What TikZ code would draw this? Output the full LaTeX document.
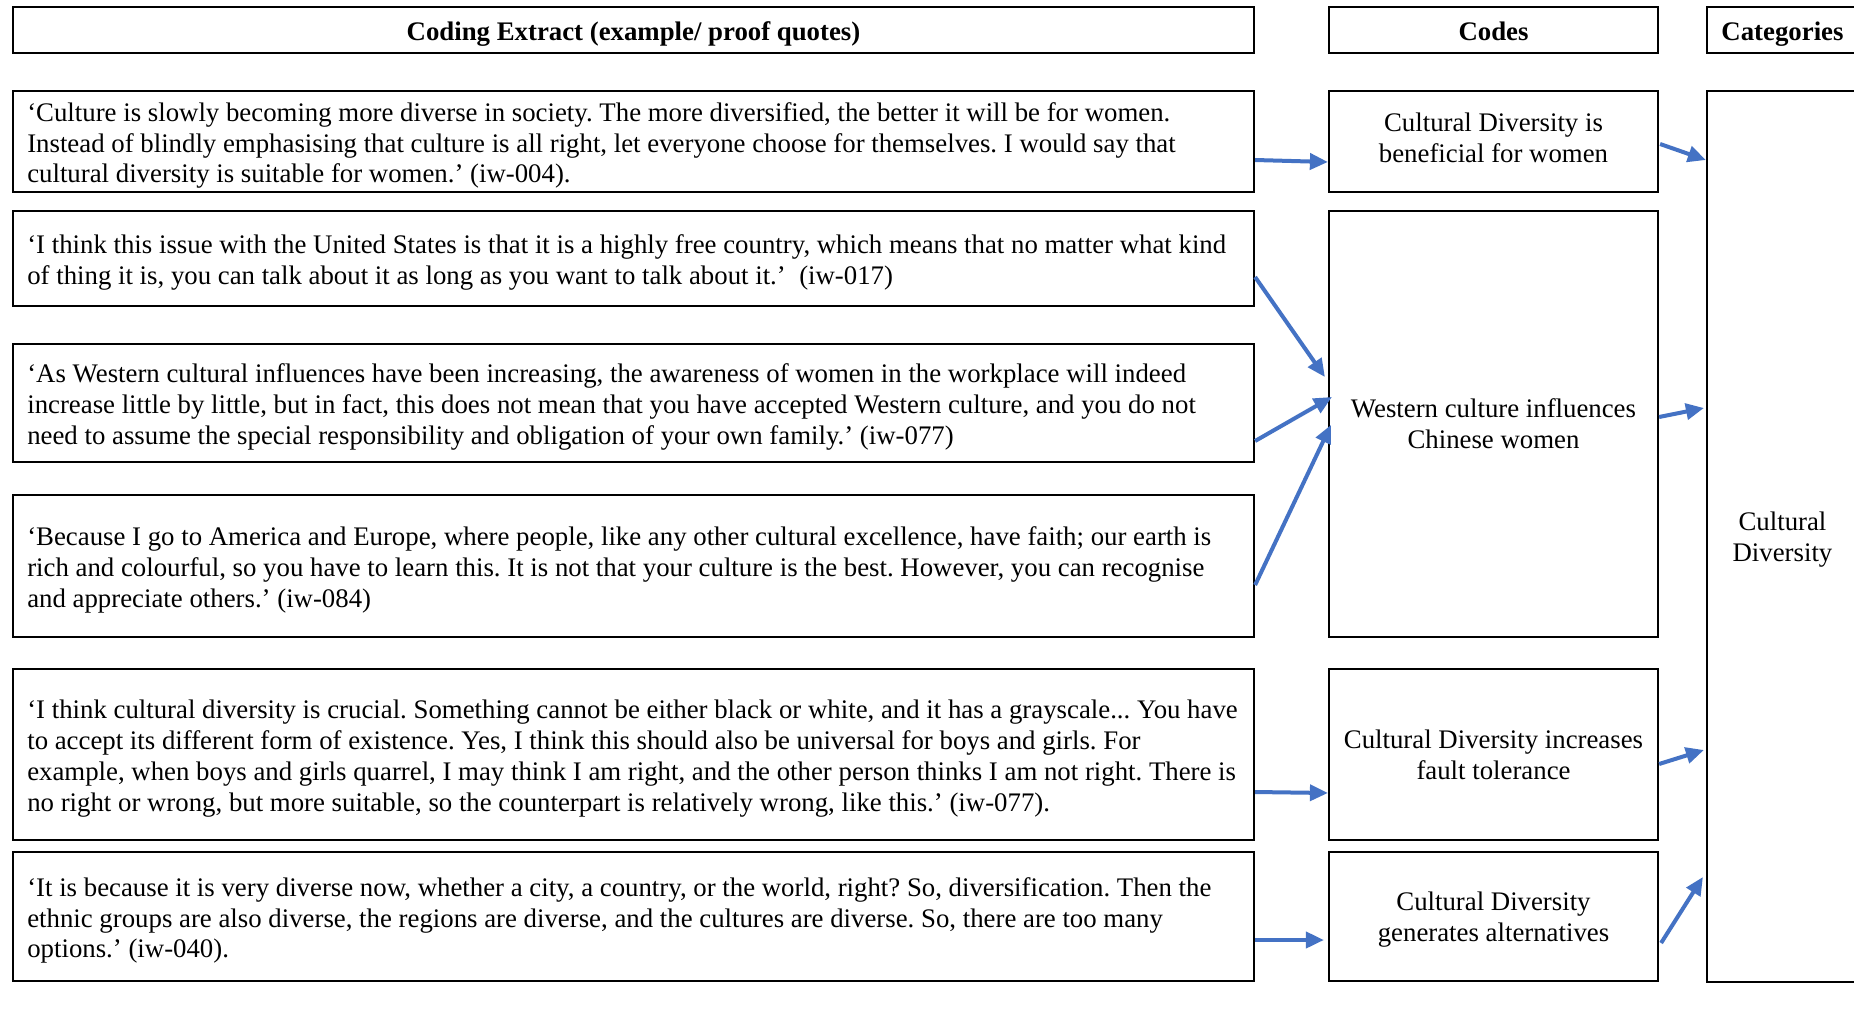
\documentclass[tikz,border=0pt]{standalone}
\usepackage{fontspec}
\setmainfont{Liberation Serif}
\usetikzlibrary{arrows.meta,calc}
\definecolor{arrowblue}{HTML}{4472C4}
\frenchspacing
\begin{document}
\frenchspacing
\begin{tikzpicture}[x=0.5pt,y=-0.5pt,
  box/.style={draw=black,line width=1.1pt,inner sep=0pt},
  qtext/.style={font=\fontsize{13.4}{15.4}\selectfont,align=left,anchor=west,inner sep=0pt,yshift=-2pt},
  ctext/.style={font=\fontsize{13.4}{15.4}\selectfont,align=center,inner sep=0pt},
  htext/.style={font=\fontsize{13.4}{15.4}\selectfont\bfseries,text height=10.9pt,text depth=0pt},
  arr/.style={draw=arrowblue,line width=2pt,-{Triangle[length=9pt,width=8pt]}}]
\useasboundingbox[fill=white] (0,0) rectangle (1854,1013);

% headers
\node[box,htext,minimum width=620.5pt,minimum height=23pt] (h1) at (633.5,30) {Coding Extract (example/ proof quotes)};
\node[box,htext,minimum width=164.5pt,minimum height=23pt] (h2) at (1493.5,30) {Codes};
\node[box,htext,minimum width=75.5pt,minimum height=23pt] (h3) at (1782.5,30) {Categories};

% quote boxes
\node[box,minimum width=620.5pt,minimum height=50.5pt] (q1) at (633.5,141.5) {};
\node[box,minimum width=620.5pt,minimum height=47.5pt] (q2) at (633.5,258.5) {};
\node[box,minimum width=620.5pt,minimum height=59pt] (q3) at (633.5,403) {};
\node[box,minimum width=620.5pt,minimum height=71pt] (q4) at (633.5,566) {};
\node[box,minimum width=620.5pt,minimum height=85.5pt] (q5) at (633.5,754.5) {};
\node[box,minimum width=620.5pt,minimum height=64.5pt] (q6) at (633.5,916.5) {};

\node[qtext] (t1) at ([xshift=7.5pt]q1.west) {‘Culture is slowly becoming more diverse in society. The more diversified, the better it will be for women.\\Instead of blindly emphasising that culture is all right, let everyone choose for themselves. I would say that\\cultural diversity is suitable for women.’ (iw-004).};
\node[qtext] (t2) at ([xshift=7.5pt]q2.west) {‘I think this issue with the United States is that it is a highly free country, which means that no matter what kind\\of thing it is, you can talk about it as long as you want to talk about it.’~ (iw-017)};
\node[qtext] (t3) at ([xshift=7.5pt]q3.west) {‘As Western cultural influences have been increasing, the awareness of women in the workplace will indeed\\increase little by little, but in fact, this does not mean that you have accepted Western culture, and you do not\\need to assume the special responsibility and obligation of your own family.’ (iw-077)};
\node[qtext] (t4) at ([xshift=7.5pt]q4.west) {‘Because I go to America and Europe, where people, like any other cultural excellence, have faith; our earth is\\rich and colourful, so you have to learn this. It is not that your culture is the best. However, you can recognise\\and appreciate others.’ (iw-084)};
\node[qtext] (t5) at ([xshift=7.5pt]q5.west) {‘I think cultural diversity is crucial. Something cannot be either black or white, and it has a grayscale... You have\\to accept its different form of existence. Yes, I think this should also be universal for boys and girls. For\\example, when boys and girls quarrel, I may think I am right, and the other person thinks I am not right. There is\\no right or wrong, but more suitable, so the counterpart is relatively wrong, like this.’ (iw-077).};
\node[qtext] (t6) at ([xshift=7.5pt]q6.west) {‘It is because it is very diverse now, whether a city, a country, or the world, right? So, diversification. Then the\\ethnic groups are also diverse, the regions are diverse, and the cultures are diverse. So, there are too many\\options.’ (iw-040).};

% code boxes
\node[box,minimum width=164.5pt,minimum height=50.5pt] (c1) at (1493.5,141.5) {};
\node[box,minimum width=164.5pt,minimum height=213pt] (c2) at (1493.5,424) {};
\node[box,minimum width=164.5pt,minimum height=85.5pt] (c3) at (1493.5,754.5) {};
\node[box,minimum width=164.5pt,minimum height=64.5pt] (c4) at (1493.5,916.5) {};
\node[ctext] (ct1) at ([yshift=1.7pt]c1.center) {Cultural Diversity is\\beneficial for women};
\node[ctext] (ct2) at (c2.center) {Western culture influences\\Chinese women};
\node[ctext] (ct3) at (c3.center) {Cultural Diversity increases\\fault tolerance};
\node[ctext] (ct4) at ([yshift=-1.7pt]c4.center) {Cultural Diversity\\generates alternatives};

% category box
\node[box,minimum width=75.5pt,minimum height=445.5pt] (cat) at (1782.5,536.5) {};
\node[ctext] (catt) at ([yshift=-1.7pt]cat.center) {Cultural\\Diversity};

% arrows quotes -> codes
\draw[arr] ($(q1.east)+(0,18.5)$) -- ($(c1.west)+(0,20.5)$);
\draw[arr] ($(q2.east)+(0,18.5)$) -- ($(c2.west)+(-3,-47)$);
\draw[arr] ($(q3.east)+(0,38)$) -- ($(c2.west)+(4,-27)$);
\draw[arr] ($(q4.east)+(0,19)$) -- ($(c2.west)+(3,1)$);
\draw[arr] ($(q5.east)+(0,37.5)$) -- ($(c3.west)+(0,38.5)$);
\draw[arr] ($(q6.east)+(0,23.5)$) -- ($(c4.west)+(-4,23.5)$);

% arrows codes -> category
\draw[arr] ($(c1.east)+(1,2.5)$) -- ($(cat.west)+(0,-376.5)$);
\draw[arr] ($(c2.east)+(0,-7)$) -- ($(cat.west)+(-2,-128.5)$);
\draw[arr] ($(c3.east)+(0,9.5)$) -- ($(cat.west)+(-2,213.5)$);
\draw[arr] ($(c4.east)+(2,26.5)$) -- ($(cat.west)+(-3,340.5)$);
\end{tikzpicture}
\end{document}
